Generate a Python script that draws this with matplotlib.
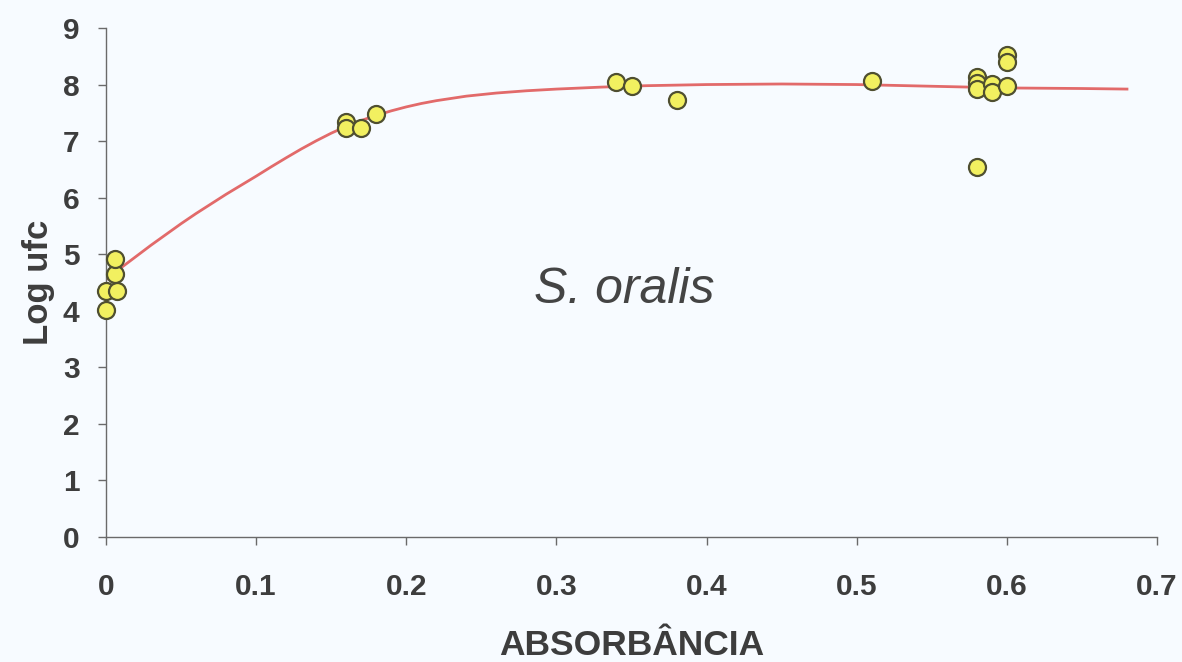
import matplotlib
matplotlib.use("Agg")
import matplotlib.pyplot as plt

# Scatter data (absorbance, log ufc)
absorb = [0.0, 0.0, 0.007, 0.006, 0.006,
          0.16, 0.16, 0.17, 0.18,
          0.34, 0.35, 0.38,
          0.51,
          0.58, 0.58, 0.58, 0.58,
          0.59, 0.59,
          0.60, 0.60, 0.60]
log_ufc = [4.02, 4.35, 4.35, 4.65, 4.92,
           7.33, 7.24, 7.23, 7.48,
           8.04, 7.97, 7.73,
           8.07,
           8.14, 8.02, 7.92, 6.55,
           8.01, 7.86,
           8.52, 8.40, 7.97]

# Trend curve
curve_x = [0.0, 0.01, 0.02, 0.03, 0.04, 0.05, 0.06, 0.07, 0.08, 0.09, 0.10,
           0.11, 0.12, 0.13, 0.14, 0.15, 0.16, 0.17, 0.18, 0.19, 0.20, 0.21,
           0.22, 0.24, 0.26, 0.28, 0.30, 0.33, 0.36, 0.40, 0.45, 0.50, 0.55,
           0.60, 0.65, 0.68]
curve_y = [4.55, 4.76, 4.96, 5.16, 5.35, 5.54, 5.72, 5.89, 6.06, 6.22, 6.38,
           6.545, 6.705, 6.86, 7.005, 7.14, 7.26, 7.365, 7.455, 7.535, 7.605,
           7.665, 7.715, 7.795, 7.85, 7.89, 7.92, 7.955, 7.98, 8.00, 8.01,
           8.00, 7.97, 7.94, 7.93, 7.92]

xticks = [0, 0.1, 0.2, 0.3, 0.4, 0.5, 0.6, 0.7]
xtick_labels = ["0", "0.1", "0.2", "0.3", "0.4", "0.5", "0.6", "0.7"]
yticks = list(range(0, 10))

bg = "#f7fbff"
txt = "#3d3d3d"
font = ["Liberation Sans", "DejaVu Sans"]

fig = plt.figure(figsize=(11.82, 6.62), dpi=100, facecolor=bg)
ax = fig.add_axes([106/1182, 1-537/662, (1157-106)/1182, (537-28)/662])
ax.set_facecolor(bg)

ax.plot(curve_x, curve_y, color="#e26a6a", lw=2.0, zorder=2)
ax.scatter(absorb, log_ufc, s=150, color="#f2f060", edgecolor="#4f4f30",
           linewidth=1.6, zorder=3, clip_on=False)

ax.set_xlim(0, 0.7)
ax.set_ylim(0, 9)
ax.set_xticks(xticks)
ax.set_xticklabels(xtick_labels)
ax.set_yticks(yticks)

for s in ["top", "right"]:
    ax.spines[s].set_visible(False)
for s in ["left", "bottom"]:
    ax.spines[s].set_color("#6a6a6a")
    ax.spines[s].set_linewidth(1.0)

ax.tick_params(axis="both", direction="out", length=6, width=1.0,
               color="#6a6a6a", labelcolor=txt)
ax.tick_params(axis="x", pad=20)
ax.tick_params(axis="y", pad=13)
for lab in ax.get_xticklabels() + ax.get_yticklabels():
    lab.set_fontfamily(font)
    lab.set_fontweight("bold")
    lab.set_fontsize(21.5)

ax.set_xlabel("ABSORBÂNCIA", fontfamily=font, fontweight="bold",
              fontsize=25.5, color=txt, labelpad=20)
ax.set_ylabel("Log ufc", fontfamily=font, fontweight="bold",
              fontsize=25, color=txt, labelpad=6)

ax.text(0.345, 4.36, "S. oralis", fontfamily=font, style="italic",
        fontsize=36, color="#444444", ha="center", va="center")

fig.savefig("out.png", dpi=100, facecolor=bg)
